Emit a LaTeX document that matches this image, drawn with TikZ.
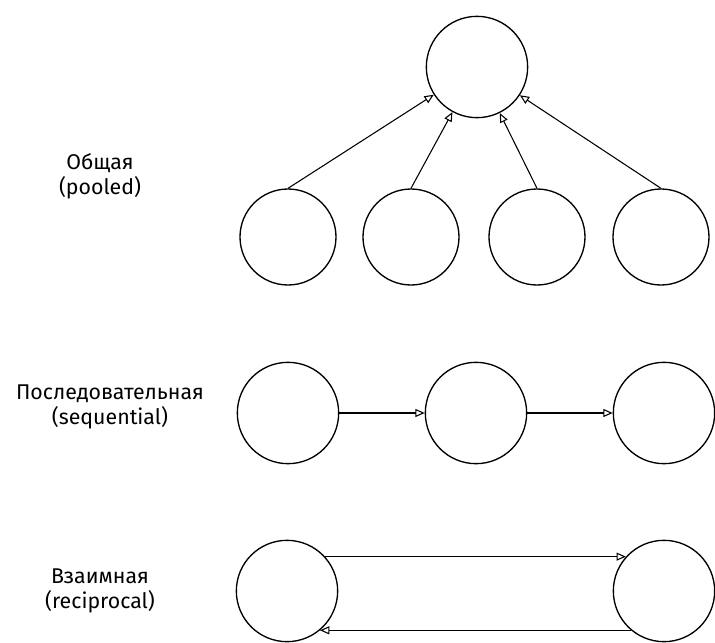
\documentclass[tikz,border=0pt]{standalone}
\usepackage{fontspec}
\setmainfont{Fira Sans}
\usetikzlibrary{arrows.meta}

\begin{document}
\begin{tikzpicture}[x=0.75pt, y=-0.75pt, line width=1pt,
	main node/.style={circle,draw,inner sep=0pt,minimum size=76pt},
	small node/.style={circle,draw,inner sep=0pt,minimum size=72pt},
	label text/.style={align=center,font=\fontsize{16}{19}\selectfont},
	link/.style={-{Triangle[open,length=7pt,width=6pt]},line width=0.8pt}]
	\useasboundingbox (0,0) rectangle (715,643);
	
	% pooled
	\node[main node] (top) at (477,67) {};
	\node[small node] (p1) at (288,237) {};
	\node[small node] (p2) at (411,237) {};
	\node[small node] (p3) at (537,237) {};
	\node[small node] (p4) at (661,237) {};
	\node[label text] (lpool) at (100,176) {Общая\\(pooled)};
	
	% sequential
	\node[main node] (s1) at (288,413) {};
	\node[main node] (s2) at (476,413) {};
	\node[main node] (s3) at (664,413) {};
	\node[label text] (lseq) at (110,407) {Последовательная\\(sequential)};
	
	% reciprocal
	\node[main node] (r1) at (287,591) {};
	\node[main node] (r2) at (664,591) {};
	\node[label text] (lrec) at (100,591) {Взаимная\\(reciprocal)};
	
	\path[link]
	(p1.north) edge (top)
	(p2.north) edge (top)
	(p3.north) edge (top)
	(p4.north) edge (top)
	(s1) edge (s2)
	(s2) edge (s3)
	(r1.42) edge (r2.138)
	(r2.-130) edge (r1.-50);
\end{tikzpicture}
\end{document}
